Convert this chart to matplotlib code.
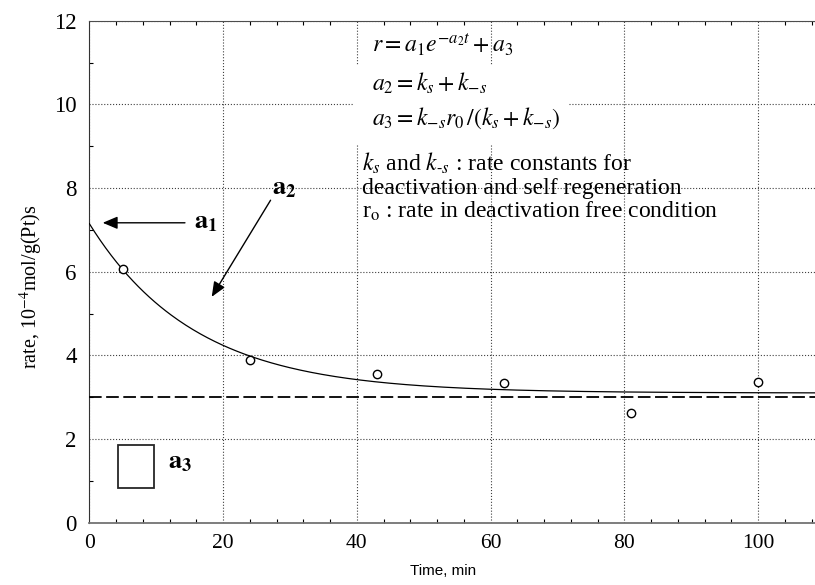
import matplotlib
matplotlib.use("Agg")
import matplotlib.pyplot as plt
import numpy as np
from matplotlib.patches import Rectangle
from matplotlib.ticker import MultipleLocator

plt.rcParams['mathtext.fontset'] = 'stix'
plt.rcParams['font.family'] = ['Liberation Serif', 'DejaVu Serif']

# data
time_min = [5, 24, 43, 62, 81, 100]
rate = [6.07, 3.89, 3.56, 3.33, 2.62, 3.36]
# fitted model parameters r = a1*exp(-a2*t) + a3
a1_fit = 4.05
a2_fit = 0.0634
a3_fit = 3.10
a3_line = 3.0
xticks = [0, 20, 40, 60, 80, 100]
yticks = [0, 2, 4, 6, 8, 10, 12]

fig = plt.figure(figsize=(8.15, 5.85), dpi=100)
ax = fig.add_axes([0.1096, 0.1065, 0.8904, 0.858])
ax.set_xlim(0, 108.5)
ax.set_ylim(0, 12)

t = np.linspace(0, 108.5, 400)
ax.plot(t, a1_fit * np.exp(-a2_fit * t) + a3_fit, color='black', lw=0.9, zorder=3)
ax.axhline(a3_line, color='black', lw=1.3, dashes=(7, 2.5), zorder=3)
ax.plot(time_min, rate, 'o', mfc='white', mec='black', ms=6, mew=1.0, zorder=4)

ax.set_xticks(xticks)
ax.set_yticks(yticks)
ax.xaxis.set_minor_locator(MultipleLocator(4))
ax.yaxis.set_minor_locator(MultipleLocator(1))
ax.tick_params(which='both', direction='in', top=True, right=False)
ax.tick_params(which='major', length=0, pad=8)
ax.tick_params(which='minor', length=3, width=0.8)
ax.tick_params(axis='x', labelsize=15.5)
ax.tick_params(axis='y', labelsize=16.5, pad=9)
ax.grid(True, which='major', linestyle=':', color='0.25', lw=0.8, zorder=0)
ax.spines['right'].set_visible(False)
ax.spines['bottom'].set_color('0.45')
ax.spines['bottom'].set_linewidth(1.3)
ax.spines['top'].set_color('0.3')
ax.spines['left'].set_color('0.2')

ax.set_ylabel(r'rate, 10$^{-4}$mol/g(Pt)s', fontsize=14.5, labelpad=6)
ax.yaxis.set_label_coords(-0.061, 0.47)
fig.text(0.544, 0.012, 'Time, min', family='Liberation Sans', fontsize=11,
         ha='center', va='bottom')

# equations
eq_kw = dict(fontsize=17, ha='left', va='baseline', zorder=6)
ax.text(42.2, 11.25, r'$r = a_1 e^{-a_2 t} + a_3$', **eq_kw)
ax.add_patch(Rectangle((39.4, 9.05), 32.2, 1.9, facecolor='white', edgecolor='none', zorder=5))
ax.text(42.2, 10.34, r'$a_2 = k_s + k_{-s}$', **eq_kw)
ax.text(42.2, 9.52, r'$a_3 = k_{-s} r_0\, /(k_s + k_{-s})$', **eq_kw)

txt_kw = dict(fontsize=17, ha='left', va='baseline', zorder=6)
ax.text(40.8, 8.42, r'$k_s$ and $k_{\text{-}s}$ : rate constants for', **txt_kw)
ax.text(40.8, 7.86, 'deactivation and self regeneration', **txt_kw)
ax.text(40.8, 7.29, r'r$_\mathrm{o}$ : rate in deactivation free condition', **txt_kw)

# annotations
arrow_kw = dict(arrowstyle='-|>,head_length=0.9,head_width=0.38', color='black', lw=1.0,
                shrinkA=0, shrinkB=0)
ax.annotate('', xy=(2.0, 7.17), xytext=(14.3, 7.17), arrowprops=arrow_kw, zorder=6)
ax.text(15.7, 7.17, r'$\mathbf{a_1}$', fontsize=19, ha='left', va='center')
ax.annotate('', xy=(18.3, 5.40), xytext=(27.1, 7.71), arrowprops=arrow_kw, zorder=6)
ax.text(27.3, 7.97, r'$\mathbf{a_2}$', fontsize=19, ha='left', va='center')

ax.add_patch(Rectangle((4.3, 0.82), 5.3, 1.03, facecolor='white', edgecolor='0.15',
                       lw=1.3, zorder=6))
ax.text(11.8, 1.43, r'$\mathbf{a_3}$', fontsize=19, ha='left', va='center')

fig.savefig('out.png', dpi=100)
